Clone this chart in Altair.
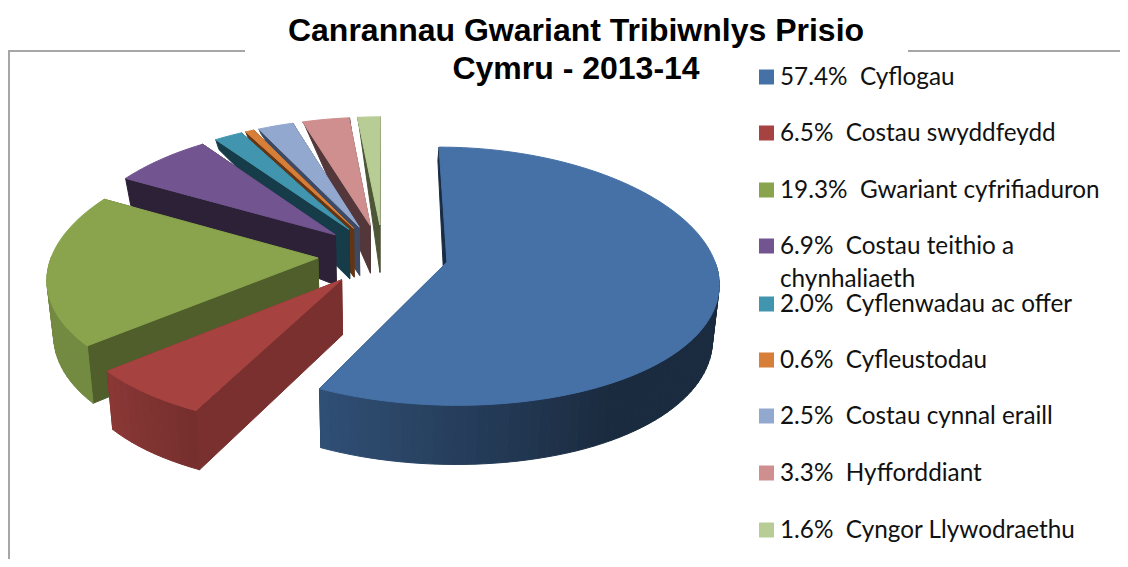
import math
import numpy as np
import pandas as pd
import altair as alt

labels = ["Cyflogau", "Costau swyddfeydd", "Gwariant cyfrifiaduron", "Costau teithio a", "Cyflenwadau ac offer",
          "Cyfleustodau", "Costau cynnal eraill", "Hyfforddiant", "Cyngor Llywodraethu"]
values = [57.4, 6.5, 19.3, 6.9, 2.0, 0.6, 2.5, 3.3, 1.6]
top_colors = ["#4571A7", "#A64340", "#89A44D", "#725590", "#4195AE", "#D77F38", "#93A8CF", "#CF8F8E", "#B8CC95"]
wall_colors = ["#1A2C44", "#7A302E", "#4F5E2B", "#2D2138", "#173C49", "#633515", "#3E4A63", "#53373A", "#4E5638"]

# projection of the exploded pie
CX, CY, RX, RY, PX, PY, EXPLODE = 383.0, 255.0, 266.0, 126.0, 0.14, 0.1086, 0.245


def project(gx, gy):
    return CX + RX * gx / (1.0 + PX * gy), CY - RY * gy / (1.0 + PY * gy)


def drop(x, y):
    d = float(np.interp(y, [117, 176, 231, 278, 390, 470], [0, 26, 50, 55, 59, 60]))
    return x + (CX - x) * 0.02, y + d


def shade(hexcol, m):
    c = [int(hexcol[i:i + 2], 16) for i in (1, 3, 5)]
    return "#%02x%02x%02x" % tuple(max(0, min(255, round(v * m))) for v in c)


total = sum(values)
edges = np.cumsum([0.0] + values) / total * 360.0
rows = []
pid = 0


def add_poly(pts, col):
    global pid
    pid += 1
    closed = list(pts) + [pts[0]]
    for k, (x, y) in enumerate(closed):
        rows.append({"poly": pid, "seq": k, "px": x, "py": y, "col": col})


for i in range(len(values) - 1, -1, -1):
    a0, a1 = edges[i], edges[i + 1]
    mid = math.radians((a0 + a1) / 2)
    ox, oy = EXPLODE * math.sin(mid), EXPLODE * math.cos(mid)
    n = max(2, int((a1 - a0) / 2.0) + 1)
    angs = np.linspace(a0, a1, n)
    rim = [project(ox + math.sin(math.radians(a)), oy + math.cos(math.radians(a))) for a in angs]
    apex = project(ox, oy)
    walls = [[apex, rim[0], drop(*rim[0]), drop(*apex)], [apex, rim[-1], drop(*rim[-1]), drop(*apex)]]
    walls.sort(key=lambda w: sum(p[1] for p in w))
    for w in walls:
        add_poly(w, wall_colors[i])
    strips = []
    for j in range(n - 1):
        a = (angs[j] + angs[j + 1]) / 2
        if math.cos(math.radians(a)) > 0:  # back of the pie: rim faces away
            continue
        m = float(np.interp(a, [90, 150, 206, 230, 300], [0.38, 0.38, 0.70, 0.84, 0.85]))
        strips.append(([rim[j], rim[j + 1], drop(*rim[j + 1]), drop(*rim[j])], shade(top_colors[i], m)))
    strips.sort(key=lambda t: sum(p[1] for p in t[0]))
    for pts, c in strips:
        add_poly(pts, c)
    add_poly([apex] + rim, top_colors[i])

polys = pd.DataFrame(rows)

X = alt.Scale(domain=[8, 1120], range=[0, 1112])
Y = alt.Scale(domain=[8, 559], range=[0, 551])

pie = alt.Chart(polys).mark_line(strokeWidth=1, interpolate="linear").encode(
    x=alt.X("px:Q", scale=X, axis=None),
    y=alt.Y("py:Q", scale=Y, axis=None),
    order="seq:Q",
    detail="poly:N",
    fill=alt.Fill("col:N", scale=None),
    stroke=alt.Stroke("col:N", scale=None),
)

frame = pd.DataFrame({"x1": [8, 908, 9], "x2": [245, 1120, 9], "y1": [51, 51, 51], "y2": [51, 51, 559]})
border = alt.Chart(frame).mark_rule(color="#a6a6a6", strokeWidth=2).encode(
    x=alt.X("x1:Q", scale=X, axis=None), x2="x2:Q",
    y=alt.Y("y1:Q", scale=Y, axis=None), y2="y2:Q",
)

title = pd.DataFrame({"t": ["Canrannau Gwariant Tribiwnlys Prisio", "Cymru - 2013-14"], "x": [576, 576], "y": [31, 69]})
title_layer = alt.Chart(title).mark_text(font="Liberation Sans", fontWeight="bold", fontSize=32, color="#000000",
                                         align="center", baseline="middle").encode(
    x=alt.X("x:Q", scale=X, axis=None), y=alt.Y("y:Q", scale=Y, axis=None), text="t:N")

legend_y = [77, 133, 190, 246, 304, 360, 416, 473, 530]
legend_text_y = [y + 1 for y in legend_y]
legend_text = [f"{v:.1f}%\u00a0\u00a0{l}" for v, l in zip(values, labels)]
leg = pd.DataFrame({"x": [766.5] * 9, "tx": [780] * 9, "y": legend_y, "ty": legend_text_y, "t": legend_text, "col": top_colors})
swatch = alt.Chart(leg).mark_square(size=225, opacity=1, filled=True).encode(
    x=alt.X("x:Q", scale=X, axis=None), y=alt.Y("y:Q", scale=Y, axis=None),
    color=alt.Color("col:N", scale=None))
leg_extra = pd.DataFrame({"tx": [780], "ty": [280], "t": ["chynhaliaeth"]})
font = dict(font="Lato", fontSize=24.3, color="#111111", align="left", baseline="middle")
leg_text = alt.Chart(leg).mark_text(**font).encode(
    x=alt.X("tx:Q", scale=X, axis=None), y=alt.Y("ty:Q", scale=Y, axis=None), text="t:N")
leg_text2 = alt.Chart(leg_extra).mark_text(**font).encode(
    x=alt.X("tx:Q", scale=X, axis=None), y=alt.Y("ty:Q", scale=Y, axis=None), text="t:N")

chart = alt.layer(border, pie, title_layer, swatch, leg_text, leg_text2).properties(
    width=1112, height=551, padding=0, autosize=alt.AutoSizeParams(type="none")
).configure_view(stroke=None)

chart.save("out.html", embed_options={"renderer": "svg", "actions": False})
